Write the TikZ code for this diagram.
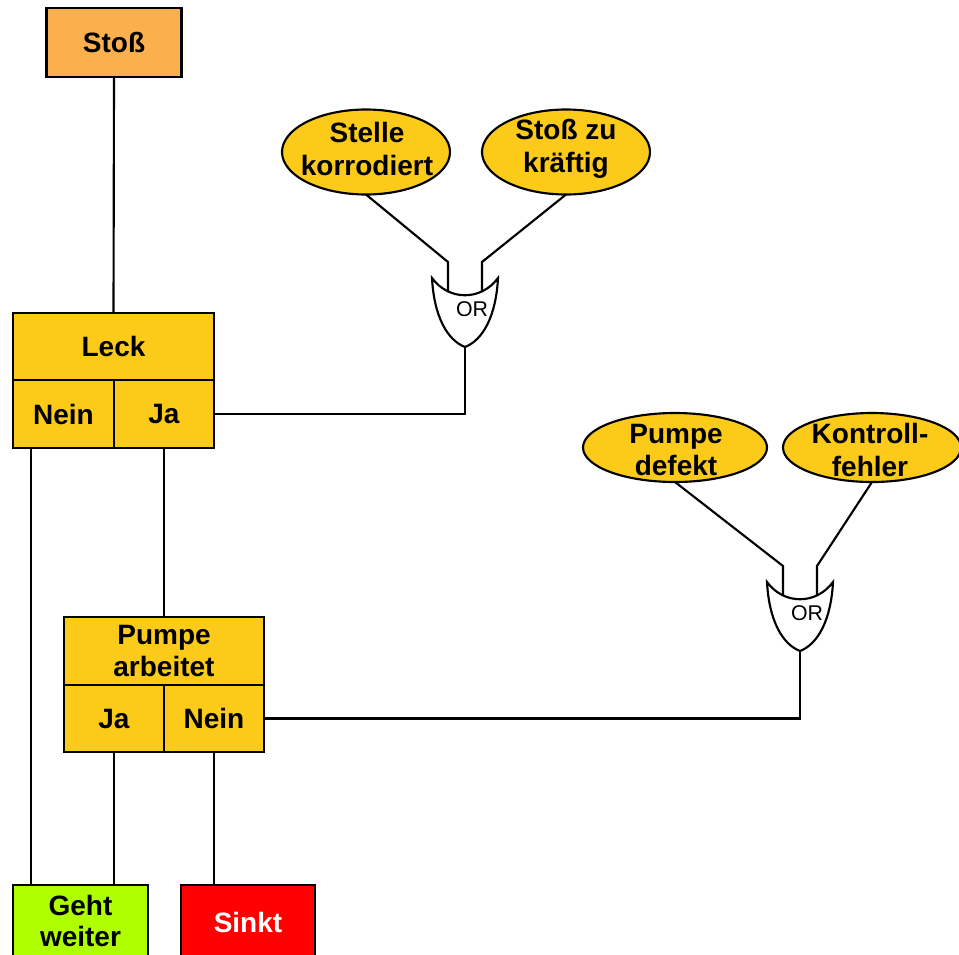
\documentclass[tikz,border=0pt]{standalone}
\usepackage{fontspec}
\setmainfont{Liberation Sans}
\usetikzlibrary{shapes.geometric,calc}

\definecolor{cOrange}{RGB}{250,176,76}
\definecolor{cGold}{RGB}{252,202,24}
\definecolor{cLime}{RGB}{176,255,0}
\definecolor{cRed}{RGB}{255,0,0}

\tikzset{
  bw/.style={minimum width={#1*0.75pt}},
  bh/.style={minimum height={#1*0.75pt}},
  box/.style={draw=black, line width=2.1pt, outer sep=0pt, inner sep=0pt,
    font=\fontsize{21}{23.5}\selectfont\bfseries, align=center},
  cell/.style={box, fill=cGold},
  evt/.style 2 args={ellipse, draw=black, line width=1.6pt, fill=cGold, inner sep=0pt,
    outer sep=0pt, bw=#1, bh=#2},
  evtxt/.style={inner sep=0pt, font=\fontsize{21}{24.5}\selectfont\bfseries, align=center},
  wire/.style={draw=black, line width=1.6pt},
  gate/.style={draw=black, line width=1.6pt, fill=white},
  ortext/.style={inner sep=0pt, font=\fontsize{16}{16}\selectfont},
  pics/orgate/.style={code={
    \draw[gate] (-33,0) .. controls (-31,38) and (-18,62) .. (0,69)
                        .. controls (18,62) and (31,38) .. (33,0)
                        .. controls (16,23) and (-16,23) .. cycle;
    \coordinate (-ina) at (-17,-16);
    \coordinate (-inab) at (-17,14);
    \coordinate (-inb) at (17,-16);
    \coordinate (-inbb) at (17,14);
    \coordinate (-out) at (0,69);
    \node[ortext] (-lbl) at (7,31) {OR};
  }}
}

\begin{document}
\begin{tikzpicture}[x=0.75pt, y=-0.75pt]
\useasboundingbox (0,0) rectangle (959,954);
\clip (0,0) rectangle (959,954);

% top event
\node[box, fill=cOrange, bw=135, bh=69] (stoss) at (114,42.5) {Stoß};

% decision block "Leck"
\node[cell, bw=201, bh=67] (leck) at (113.5,346.5) {Leck};
\node[cell, bw=101, bh=68] (lnein) at (63.5,414) {Nein};
\node[cell, bw=100, bh=68] (lja) at (164,414) {Ja};

% decision block "Pumpe arbeitet"
\node[cell, bw=200, bh=68] (pumpe) at (164,651) {Pumpe\\arbeitet};
\node[cell, bw=100, bh=67] (pja) at (114,718.5) {Ja};
\node[cell, bw=100, bh=67] (pnein) at (214,718.5) {Nein};

% end states
\node[box, fill=cLime, bw=135, bh=72] (geht) at (80.5,921) {Geht\\weiter};
\node[box, fill=cRed, bw=134, bh=72] (sinkt) at (248,921) {};
\node[evtxt, text=white] (sinkttxt) at (248,922) {Sinkt};

% basic events
\node[evt={168}{85}] (e1) at (366,152) {};
\node[evtxt] (e1t) at (367,149) {Stelle\\korrodiert};
\node[evt={168}{85}] (e2) at (566,152) {};
\node[evtxt] (e2t) at (566,149) {Stoß zu\\kräftig};
\node[evt={184}{69}] (e3) at (675,447.5) {};
\node[evtxt] (e3t) at (676,450) {Pumpe\\defekt};
\node[evt={178}{69}] (e4) at (872,447.5) {};
\node[evtxt] (e4t) at (870,450) {Kontroll-\\fehler};

% OR gates
\pic (g1) at (465,278) {orgate};
\pic (g2) at (800,582) {orgate};

% connectors
\draw[wire] (stoss.south) -- (leck.north);
\draw[wire] (lja.south) -- (pumpe.north);
\coordinate (gw) at ($(geht.north west)+(18,0)$);
\draw[wire] (lnein.south -| gw) -- (gw);
\draw[wire] (pja.south) -- (pja.south |- geht.north);
\draw[wire] (pnein.south) -- (pnein.south |- sinkt.north);
\draw[wire] (lja.east) -| (g1-out);
\draw[wire] (pnein.east) -| (g2-out);
\draw[wire] (e1.south) -- (g1-ina) -- (g1-inab);
\draw[wire] (e2.south) -- (g1-inb) -- (g1-inbb);
\draw[wire] (e3.south) -- (g2-ina) -- (g2-inab);
\draw[wire] (e4.south) -- (g2-inb) -- (g2-inbb);
\end{tikzpicture}
\end{document}
